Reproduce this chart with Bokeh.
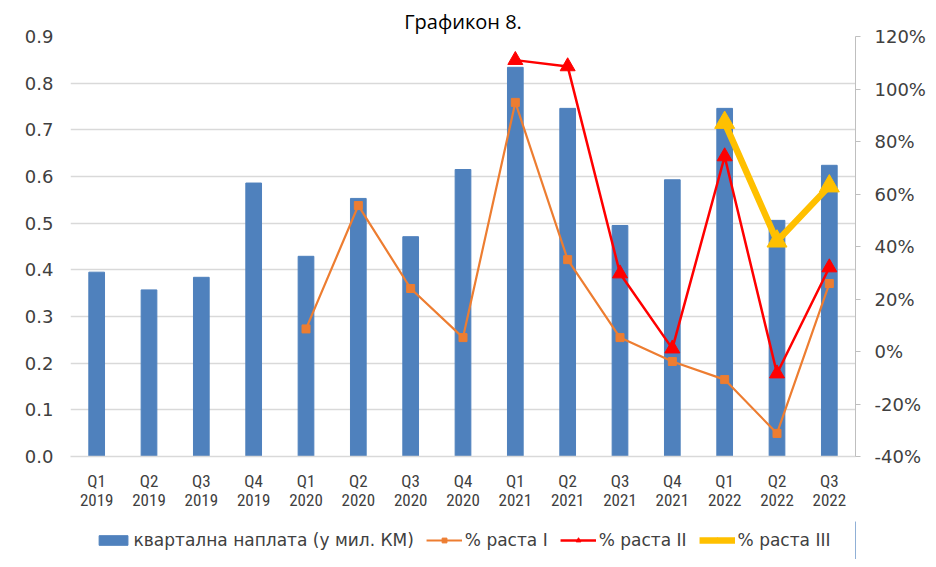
from bokeh.plotting import figure
from bokeh.layouts import column
from bokeh.models import (FactorRange, Range1d, LinearAxis, CategoricalAxis,
                          NumeralTickFormatter, FixedTicker, Legend, LegendItem,
                          CustomJSTickFormatter)
from bokeh.embed import file_html
from bokeh.resources import INLINE

# ---------------- data ----------------
quarters = ["Q1 2019", "Q2 2019", "Q3 2019", "Q4 2019",
            "Q1 2020", "Q2 2020", "Q3 2020", "Q4 2020",
            "Q1 2021", "Q2 2021", "Q3 2021", "Q4 2021",
            "Q1 2022", "Q2 2022", "Q3 2022"]
payment = [0.395, 0.357, 0.384, 0.586, 0.429, 0.553, 0.471, 0.615,
           0.834, 0.746, 0.495, 0.593, 0.746, 0.506, 0.624]

growth1_q = quarters[4:]
growth1 = [0.086, 0.556, 0.24, 0.053, 0.949, 0.35, 0.053, -0.038, -0.107, -0.312, 0.259]
growth2_q = quarters[8:]
growth2 = [1.11, 1.086, 0.297, 0.011, 0.743, -0.084, 0.32]
growth3_q = quarters[12:]
growth3 = [0.872, 0.42, 0.63]

left_ticks = [0.0, 0.1, 0.2, 0.3, 0.4, 0.5, 0.6, 0.7, 0.8, 0.9]
right_ticks = [-0.4, -0.2, 0.0, 0.2, 0.4, 0.6, 0.8, 1.0, 1.2]

labels = ["квартална наплата (у мил. КМ)", "% раста I", "% раста II", "% раста III"]
title_text = "Графикон 8."

BLUE = "#4f81bd"
ORANGE = "#ed7d31"
RED = "#ff0000"
YELLOW = "#ffc000"
TXT = "#404040"
GRID = "#d9d9d9"
XFONT = "Liberation Sans Narrow, Roboto Condensed, Roboto"

p = figure(width=928, height=521, x_range=FactorRange(*quarters),
           y_range=Range1d(0, 0.9), output_backend="svg", toolbar_location=None,
           min_border_left=70, min_border_right=72, min_border_top=36,
           min_border_bottom=65)
p.extra_y_ranges = {"pct": Range1d(-0.4, 1.2)}
p.outline_line_color = None
p.background_fill_color = "white"
p.border_fill_color = "white"

p.title.text = title_text
p.title.align = "center"
p.title.text_font = "Open Sans"
p.title.text_font_size = "20px"
p.title.text_font_style = "normal"
p.title.text_color = "#000000"
p.title.standoff = 4

# bars
p.vbar(x=quarters, top=payment, width=0.3, color=BLUE)

# lines
p.line(x=growth1_q, y=growth1, color=ORANGE, line_width=2.2, y_range_name="pct")
p.scatter(x=growth1_q, y=growth1, marker="square", size=8, color=ORANGE,
          y_range_name="pct")
p.line(x=growth3_q, y=growth3, color=YELLOW, line_width=6.5, y_range_name="pct")
p.scatter(x=growth3_q, y=growth3, marker="triangle", size=20, color=YELLOW,
          y_range_name="pct")
p.line(x=growth2_q, y=growth2, color=RED, line_width=2.5, y_range_name="pct")
p.scatter(x=growth2_q, y=growth2, marker="triangle", size=15, color=RED,
          y_range_name="pct")

# left axis
ya = p.yaxis[0]
ya.ticker = FixedTicker(ticks=left_ticks)
ya.formatter = NumeralTickFormatter(format="0.0")
ya.axis_line_color = None
ya.major_tick_line_color = None
ya.major_tick_out = 0
ya.major_tick_in = 0
ya.minor_tick_line_color = None
ya.major_label_text_font = "DejaVu Sans"
ya.major_label_text_font_size = "18px"
ya.major_label_text_color = TXT
ya.major_label_standoff = 17

# right axis
ra = LinearAxis(y_range_name="pct", ticker=FixedTicker(ticks=right_ticks),
                formatter=NumeralTickFormatter(format="0%"))
ra.axis_line_color = "#bfbfbf"
ra.major_tick_line_color = "#bfbfbf"
ra.major_tick_in = 0
ra.major_tick_out = 5
ra.minor_tick_line_color = None
ra.major_label_text_font = "DejaVu Sans"
ra.major_label_text_font_size = "18px"
ra.major_label_text_color = TXT
ra.major_label_standoff = 14
p.add_layout(ra, "right")

# x axis: quarter row
xa = p.xaxis[0]
xa.axis_line_color = GRID
xa.axis_line_width = 1.5
xa.major_tick_line_color = None
xa.major_tick_out = 0
xa.major_tick_in = 0
xa.minor_tick_line_color = None
xa.formatter = CustomJSTickFormatter(code="return tick.split(' ')[0];")
xa.major_label_text_font = XFONT
xa.major_label_text_font_size = "17px"
xa.major_label_text_color = TXT
xa.major_label_standoff = 14

# x axis: year row
xa2 = CategoricalAxis()
xa2.axis_line_color = None
xa2.major_tick_line_color = None
xa2.major_tick_out = 0
xa2.major_tick_in = 0
xa2.minor_tick_line_color = None
xa2.formatter = CustomJSTickFormatter(code="return tick.split(' ')[1];")
xa2.major_label_text_font = XFONT
xa2.major_label_text_font_size = "17px"
xa2.major_label_text_color = TXT
xa2.major_label_standoff = 0
p.add_layout(xa2, "below")

p.xgrid.grid_line_color = None
p.ygrid.ticker = FixedTicker(ticks=left_ticks)
p.ygrid.grid_line_color = GRID
p.ygrid.grid_line_width = 1.5

# ---------------- legend strip (separate figure below the chart) ----------------
lf = figure(width=928, height=38, x_range=Range1d(0, 1), y_range=Range1d(0, 1),
            output_backend="svg", toolbar_location=None,
            x_axis_location=None, y_axis_location=None, min_border=0)
lf.outline_line_color = None
lf.grid.visible = False
lf.border_fill_color = "white"

# legend keys: styled like the chart's series, placed outside the strip's visible range
k0 = lf.vbar(x=[5], top=[5], width=0.3, color=BLUE)
k1l = lf.line(x=[5, 6], y=[5, 5], color=ORANGE, line_width=2.2)
k1m = lf.scatter(x=[5], y=[5], marker="square", size=8, color=ORANGE)
k2l = lf.line(x=[5, 6], y=[5, 5], color=RED, line_width=2.5)
k2m = lf.scatter(x=[5], y=[5], marker="triangle", size=15, color=RED)
k3l = lf.line(x=[5, 6], y=[5, 5], color=YELLOW, line_width=6.5)
k3m = lf.scatter(x=[5], y=[5], marker="triangle", size=18, color=YELLOW)

legend = Legend(items=[
    LegendItem(label=labels[0], renderers=[k0]),
    LegendItem(label=labels[1], renderers=[k1l, k1m]),
    LegendItem(label=labels[2], renderers=[k2l, k2m]),
    LegendItem(label=labels[3], renderers=[k3l, k3m]),
], orientation="horizontal", location="center")
legend.label_text_font = "DejaVu Sans"
legend.label_text_font_size = "17px"
legend.label_text_color = TXT
legend.glyph_width = 36
legend.glyph_height = 12
legend.label_standoff = 3
legend.spacing = 12
legend.border_line_color = None
legend.background_fill_alpha = 0
legend.padding = 4
legend.margin = 0
lf.add_layout(legend, "center")

layout = column(p, lf, spacing=0)

open("out.html", "w").write(file_html(layout, INLINE))
